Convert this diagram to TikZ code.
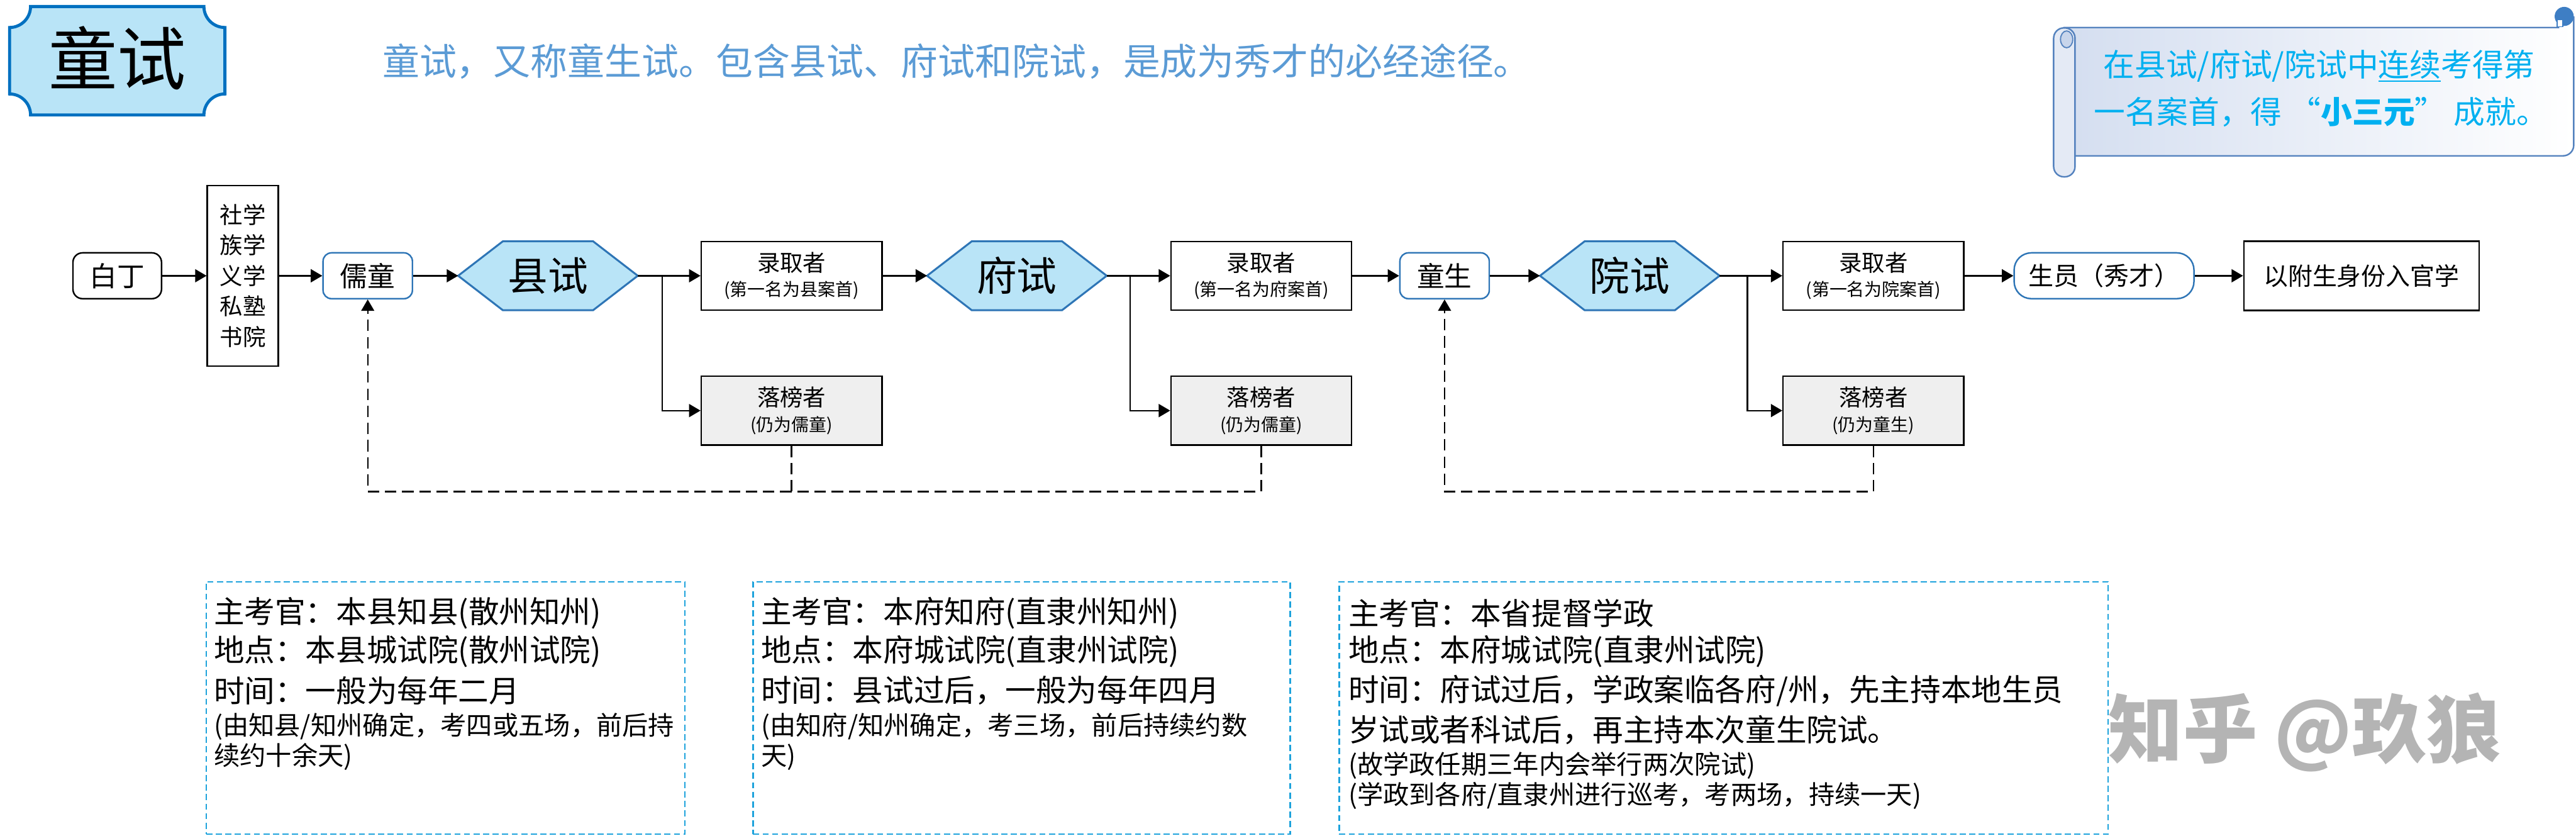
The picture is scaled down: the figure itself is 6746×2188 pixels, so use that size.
\documentclass[tikz,border=0pt]{standalone}
\usepackage{fontspec}
\setmainfont{Noto Sans CJK SC}
\usetikzlibrary{arrows.meta,backgrounds}

\definecolor{hexfill}{RGB}{185,228,247}
\definecolor{hexline}{RGB}{46,117,182}
\definecolor{titleline}{RGB}{0,112,192}
\definecolor{subblue}{RGB}{91,155,213}
\definecolor{scrolltxt}{RGB}{0,176,240}
\definecolor{scrollline}{RGB}{84,130,190}
\definecolor{scrolldark}{RGB}{62,126,196}
\definecolor{scrollfill}{RGB}{212,222,240}
\definecolor{scrollroll}{RGB}{228,234,245}
\definecolor{scrollcurl}{RGB}{200,213,235}
\definecolor{failfill}{RGB}{239,239,239}
\definecolor{infoline}{RGB}{30,163,220}
\definecolor{markgray}{RGB}{180,180,180}

\newcommand\subnote{\fontsize{46}{65}\selectfont}

\tikzset{
  box/.style={draw, line width=4pt, fill=white, minimum width=473pt, minimum height=180pt,
    inner sep=0pt, align=center, font=\fontsize{60}{65}\selectfont},
  failbox/.style={box, fill=failfill},
  startbox/.style={draw, line width=4pt, fill=white, rounded corners=25pt, minimum width=232pt,
    minimum height=120pt, inner sep=0pt, font=\fontsize{72}{80}\selectfont},
  roundbox/.style={draw=hexline, line width=4pt, fill=white, rounded corners=22pt, minimum width=234pt,
    minimum height=120pt, inner sep=0pt, font=\fontsize{72}{80}\selectfont},
  exam/.style={minimum width=470pt, minimum height=180pt, inner sep=0pt, font=\fontsize{105}{110}\selectfont},
  flow/.style={line width=4pt, -{Triangle[length=30pt,width=34pt]}},
  retry/.style={line width=4pt, dash pattern=on 30pt off 15pt},
  infobox/.style={draw=infoline, line width=4pt, dash pattern=on 16pt off 9pt, anchor=north west, inner sep=0pt},
  infotxt/.style={anchor=west, inner sep=0pt, font=\fontsize{80}{90}\selectfont},
  infonote/.style={anchor=west, inner sep=0pt, font=\fontsize{68}{75}\selectfont},
}

\begin{document}
\begin{tikzpicture}[x=1pt, y=-1pt]
\useasboundingbox (0,0) rectangle (6746,2188);

% Title
\draw[draw=titleline, line width=8pt, fill=hexfill]
  (80,17) -- (534,17) arc[start angle=180, end angle=270, radius=55pt]
  -- (589,246) arc[start angle=90, end angle=180, radius=55pt]
  -- (80,301) arc[start angle=0, end angle=90, radius=55pt]
  -- (25,72) arc[start angle=270, end angle=360, radius=55pt] -- cycle;
\node[font=\fontsize{180}{190}\selectfont] (title) at (307,152) {童试};
\node[anchor=west, text=subblue, font=\fontsize{97}{100}\selectfont] (intro) at (998,160)
  {童试，又称童生试。包含县试、府试和院试，是成为秀才的必经途径。};

% Scroll
\draw[draw=scrollline, line width=4pt, left color=scrollfill, right color=white]
  (5406,72) -- (6700,72) -- (6700,45) -- (6740,45) -- (6740,380)
  arc[start angle=0, end angle=-90, radius=28pt] -- (5406,408) -- cycle;
\fill[scrolldark] (6715,43) circle[radius=25pt];
\draw[draw=scrolldark, line width=3pt, fill=white] (6696,52) rectangle (6712,70);
\draw[draw=scrollline, line width=4pt, fill=scrollroll, rounded corners=27pt] (5378,73) rectangle (5434,463);
\draw[draw=scrollline, line width=3pt, fill=scrollcurl] (5412,103) ellipse[x radius=16pt, y radius=22pt];
\node[anchor=west, inner sep=0pt, text=scrolltxt, font=\fontsize{82}{90}\selectfont] (note1) at (5508,173)
  {在县试/府试/院试中\rlap{\rule[-14pt]{164pt}{4pt}}连续考得第};
\node[anchor=west, inner sep=0pt, text=scrolltxt, font=\fontsize{82}{90}\selectfont] (note2) at (5484,293)
  {一名案首，得\hspace{20pt}“{\bfseries 小三元}”\hspace{20pt}成就。};

% Nodes
\node[startbox] (baiding) at (307,722) {白丁};
\node[box, minimum width=186pt, minimum height=473pt, font=\fontsize{60}{80}\selectfont] (shexue) at (636,722)
  {社学\\族学\\义学\\私塾\\书院};
\node[roundbox] (rutong) at (963,722) {儒童};
\node[exam] (xianshi) at (1435,722) {县试};
\node[box] (luqu1) at (2073,722) {录取者\\{\subnote (第一名为县案首)}};
\node[failbox] (luobang1) at (2073,1075) {落榜者\\{\subnote (仍为儒童)}};
\node[exam] (fushi) at (2663,722) {府试};
\node[box] (luqu2) at (3303,722) {录取者\\{\subnote (第一名为府案首)}};
\node[failbox] (luobang2) at (3303,1075) {落榜者\\{\subnote (仍为儒童)}};
\node[roundbox] (tongsheng) at (3783,722) {童生};
\node[exam] (yuanshi) at (4268,722) {院试};
\node[box] (luqu3) at (4906,722) {录取者\\{\subnote (第一名为院案首)}};
\node[failbox] (luobang3) at (4906,1075) {落榜者\\{\subnote (仍为童生)}};
\node[roundbox, rounded corners=45pt, minimum width=471pt, font=\fontsize{66}{70}\selectfont] (shengyuan) at (5510,722)
  {生员（秀才）};
\node[box, minimum width=616pt, minimum height=181pt, font=\fontsize{64}{70}\selectfont] (guanxue) at (6184,722)
  {以附生身份入官学};

% Hexagons
\begin{scope}[on background layer]
  \foreach \n in {xianshi,fushi,yuanshi}
    \draw[draw=hexline, line width=5pt, fill=hexfill]
      (\n.west) -- ([xshift=117pt]\n.north west) -- ([xshift=-117pt]\n.north east)
      -- (\n.east) -- ([xshift=-117pt]\n.south east) -- ([xshift=117pt]\n.south west) -- cycle;
\end{scope}

% Edges
\draw[flow] (baiding) -- (shexue);
\draw[flow] (shexue) -- (rutong);
\draw[flow] (rutong) -- (xianshi);
\coordinate (j1) at ([xshift=64pt]xianshi.east);
\draw[flow] (xianshi) -- (luqu1);
\draw[flow] (j1) |- (luobang1);
\draw[flow] (luqu1) -- (fushi);
\coordinate (j2) at ([xshift=61pt]fushi.east);
\draw[flow] (fushi) -- (luqu2);
\draw[flow] (j2) |- (luobang2);
\draw[flow] (luqu2) -- (tongsheng);
\draw[flow] (tongsheng) -- (yuanshi);
\coordinate (j3) at ([xshift=73pt]yuanshi.east);
\draw[flow] (yuanshi) -- (luqu3);
\draw[flow] (j3) |- (luobang3);
\draw[flow] (luqu3) -- (shengyuan);
\draw[flow] (shengyuan) -- (guanxue);

% Back edges
\draw[retry] (luobang1.south) -- ++(0,120);
\draw[retry, -{Triangle[length=30pt,width=34pt]}] (luobang2.south) -- ++(0,120) -| (rutong.south);
\draw[retry, -{Triangle[length=30pt,width=34pt]}] (luobang3.south) -- ++(0,120) -| (tongsheng.south);

% Info boxes
\node[infobox, minimum width=1254pt, minimum height=661pt] (info1) at (538,1521) {};
\node[infotxt] (info1a) at (560,1605) {主考官：本县知县(散州知州)};
\node[infotxt] (info1b) at (560,1705) {地点：本县城试院(散州试院)};
\node[infotxt] (info1c) at (560,1808) {时间：一般为每年二月};
\node[infonote] (info1d) at (560,1902) {(由知县/知州确定，考四或五场，前后持};
\node[infonote] (info1e) at (560,1982) {续约十余天)};

\node[infobox, minimum width=1407pt, minimum height=661pt] (info2) at (1970,1521) {};
\node[infotxt] (info2a) at (1993,1605) {主考官：本府知府(直隶州知州)};
\node[infotxt] (info2b) at (1993,1705) {地点：本府城试院(直隶州试院)};
\node[infotxt] (info2c) at (1993,1808) {时间：县试过后，一般为每年四月};
\node[infonote] (info2d) at (1993,1902) {(由知府/知州确定，考三场，前后持续约数};
\node[infonote] (info2e) at (1993,1982) {天)};

\node[infobox, minimum width=2014pt, minimum height=661pt] (info3) at (3505,1521) {};
\node[infotxt] (info3a) at (3531,1605) {主考官：本省提督学政};
\node[infotxt] (info3b) at (3531,1705) {地点：本府城试院(直隶州试院)};
\node[infotxt] (info3c) at (3531,1808) {时间：府试过后，学政案临各府/州，先主持本地生员};
\node[infotxt] (info3d) at (3531,1911) {岁试或者科试后，再主持本次童生院试。};
\node[infonote] (info3e) at (3531,2004) {(故学政任期三年内会举行两次院试)};
\node[infonote] (info3f) at (3531,2083) {(学政到各府/直隶州进行巡考，考两场，持续一天)};

% Watermark
\node[anchor=west, inner sep=0pt, text=markgray, font=\fontsize{195}{200}\selectfont\bfseries] (mark) at (5522,1917)
  {知乎 @玖狼};
\end{tikzpicture}
\end{document}
